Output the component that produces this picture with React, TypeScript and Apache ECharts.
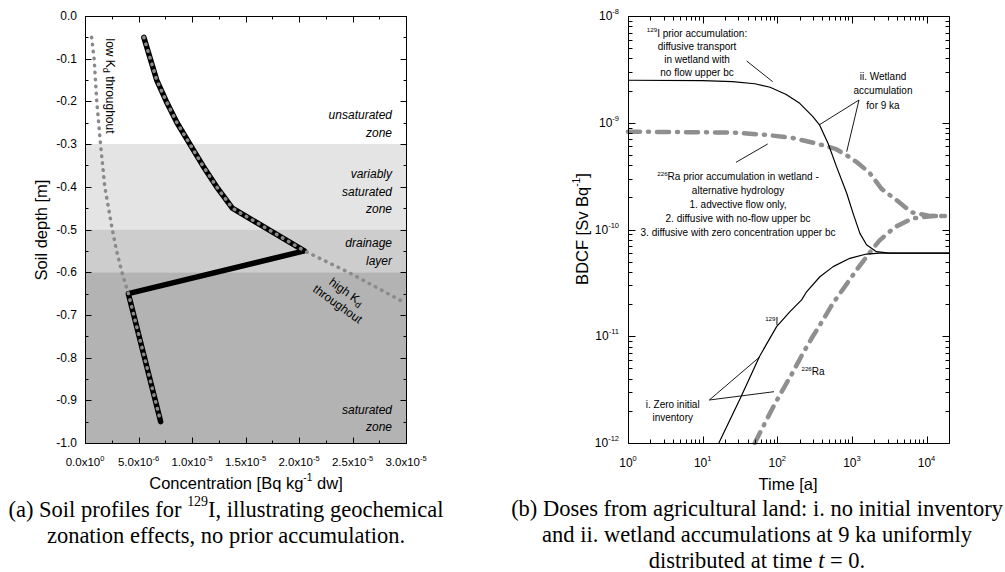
import React, { useEffect, useRef } from 'react';
import * as echarts from 'echarts';

// ---------- Left panel data: soil profiles for 129I ----------
const zonedDepth = [-0.05, -0.15, -0.2, -0.25, -0.3, -0.35, -0.4, -0.45, -0.55, -0.65, -0.95];
const zonedConc = [5.5e-6, 6.7e-6, 7.6e-6, 8.6e-6, 9.8e-6, 1.1e-5, 1.23e-5, 1.377e-5, 2.05e-5, 4.05e-6, 7.07e-6];

const highKdDepth = [-0.05, -0.15, -0.2, -0.25, -0.3, -0.35, -0.4, -0.45, -0.55, -0.6, -0.673];
const highKdConc = [5.5e-6, 6.7e-6, 7.6e-6, 8.6e-6, 9.8e-6, 1.1e-5, 1.23e-5, 1.377e-5, 2.05e-5, 2.46e-5, 3.0e-5];

const lowKdDepth = [-0.05, -0.1, -0.2, -0.3, -0.4, -0.5, -0.55, -0.6, -0.65, -0.95];
const lowKdConc = [6.2e-7, 8.5e-7, 1.1e-6, 1.45e-6, 1.85e-6, 2.55e-6, 2.95e-6, 3.45e-6, 4.05e-6, 7.07e-6];

const zoneBounds = [-0.3, -0.5, -0.6, -1.0];

// ---------- Right panel data: BDCF vs time ----------
const i129PriorTime = [1, 10, 25, 50, 80, 130, 200, 300, 370, 480, 620, 850, 1040, 1280, 1570, 2130, 3170, 20000];
const i129PriorDose = [2.5e-9, 2.48e-9, 2.43e-9, 2.32e-9, 2.15e-9, 1.85e-9, 1.52e-9, 1.14e-9, 9.5e-10, 6.4e-10, 3.9e-10, 2.2e-10, 1.41e-10, 9.2e-11, 7.2e-11, 6.2e-11, 6.0e-11, 6.0e-11];

const i129ZeroTime = [16.5, 32, 58, 98, 148, 212, 247, 372, 561, 937, 1567, 2350, 20000];
const i129ZeroDose = [1e-12, 2.63e-12, 6.5e-12, 1.23e-11, 1.7e-11, 2.19e-11, 2.61e-11, 3.61e-11, 4.49e-11, 5.37e-11, 5.89e-11, 6.0e-11, 6.0e-11];

const ra226PriorTime = [1, 25, 72, 160, 333, 600, 835, 1200, 1720, 2500, 3900, 6300, 11000, 20000];
const ra226PriorDose = [8.25e-10, 8.1e-10, 7.7e-10, 7.2e-10, 6.4e-10, 5.7e-10, 5.0e-10, 4.2e-10, 3.4e-10, 2.4e-10, 1.9e-10, 1.45e-10, 1.34e-10, 1.34e-10];

const ra226ZeroTime = [50, 68, 92, 120, 163, 220, 300, 410, 555, 800, 1150, 1630, 2350, 3740, 6500, 12000, 20000];
const ra226ZeroDose = [1e-12, 1.53e-12, 2.3e-12, 3.2e-12, 4.65e-12, 6.9e-12, 1.0e-11, 1.42e-11, 2.03e-11, 2.9e-11, 4.17e-11, 5.75e-11, 7.9e-11, 1.05e-10, 1.27e-10, 1.34e-10, 1.34e-10];

// ---------- Axis ranges and tick values ----------
const leftX = { min: 0, max: 3e-5, step: 5e-6, log: false };
const leftY = { min: -1, max: 0, step: 0.1, log: false };
const rightX = { min: 1, max: 20000, log: true };
const rightY = { min: 1e-12, max: 1e-8, log: true };

const leftXMajor: number[] = [];
const leftXMinor: number[] = [];
for (let i = 0; i <= 6; i++) leftXMajor.push(i * leftX.step);
for (let i = 0; i < 6; i++) leftXMinor.push((i + 0.5) * leftX.step);
const leftYMajor: number[] = [];
const leftYMinor: number[] = [];
for (let i = 0; i <= 10; i++) leftYMajor.push(-1 + i * leftY.step);
for (let i = 0; i < 10; i++) leftYMinor.push(-1 + (i + 0.5) * leftY.step);

const rightXMajor = [1, 10, 100, 1000, 10000];
const rightYMajor = [1e-12, 1e-11, 1e-10, 1e-9, 1e-8];
const rightXMinor: number[] = [];
for (let n = 0; n <= 3; n++) for (let k = 2; k <= 9; k++) rightXMinor.push(k * Math.pow(10, n));
const rightYMinor: number[] = [];
for (let n = -12; n <= -9; n++) for (let k = 2; k <= 9; k++) rightYMinor.push(k * Math.pow(10, n));

const GRIDS = [
  { left: 85, top: 16, width: 321, height: 427 },
  { left: 628, top: 16, width: 321, height: 427 },
];

const SANS = 'Liberation Sans';
const SERIF = 'Liberation Serif';

const zip = (a: number[], b: number[]) => a.map((v, i) => [v, b[i]]);

const supRich = (base: number, sup: number, pad: number) => ({
  sup: { fontSize: sup, fontFamily: SANS, padding: [0, 0, pad, 0], color: '#000' },
  b: { fontSize: base, fontFamily: SANS, color: '#000' },
});

function sciLabel(v: number) {
  if (Math.abs(v) < 1e-15) return '{b|0.0x10}{sup|0}';
  const e = Math.floor(Math.log10(v) + 1e-9);
  const m = v / Math.pow(10, e);
  return '{b|' + m.toFixed(1) + 'x10}{sup|' + e + '}';
}
function powLabel(v: number) {
  const l = Math.log10(v);
  const r = Math.round(l);
  if (Math.abs(l - r) > 1e-6) return '';
  return '{b|10}{sup|' + r + '}';
}

function text(x: number, y: number, t: string, o: any = {}) {
  const size = o.size || 10;
  const family = o.family || SANS;
  const style: any = {
    text: t,
    fontSize: size,
    fontFamily: family,
    fontStyle: o.italic ? 'italic' : 'normal',
    fill: '#000',
    align: o.align || 'center',
    verticalAlign: 'middle',
    textAlign: o.align || 'center',
    textVerticalAlign: 'middle',
    lineHeight: o.lh || size * 1.3,
  };
  if (o.rich) style.rich = o.rich;
  return { type: 'text', x, y, rotation: o.rot || 0, z: 100, style };
}
function line(x1: number, y1: number, x2: number, y2: number, w = 0.9) {
  return { type: 'line', z: 100, shape: { x1, y1, x2, y2 }, style: { stroke: '#000', lineWidth: w } };
}

const annRich = (size: number, family = SANS) => ({
  sup: { fontSize: size * 0.62, fontFamily: family, padding: [0, 0, size * 0.7, 0], fill: '#000', color: '#000' },
  sub: { fontSize: size * 0.75, fontFamily: family, padding: [size * 0.6, 0, 0, 0], fill: '#000', color: '#000' },
  it: { fontSize: size, fontFamily: family, fontStyle: 'italic', fill: '#000', color: '#000' },
});

function buildOption() {
  const hidden = {
    axisLine: { show: false, onZero: false },
    axisTick: { show: false },
    minorTick: { show: false },
    splitLine: { show: false },
  };
  const markAreaData = [
    [{ yAxis: zoneBounds[0], itemStyle: { color: '#e4e4e4' } }, { yAxis: zoneBounds[1] }],
    [{ yAxis: zoneBounds[1], itemStyle: { color: '#cdcdcd' } }, { yAxis: zoneBounds[2] }],
    [{ yAxis: zoneBounds[2], itemStyle: { color: '#b3b3b3' } }, { yAxis: zoneBounds[3] }],
  ];
  return {
    animation: false,
    backgroundColor: '#fff',
    textStyle: { fontFamily: SANS },
    grid: GRIDS,
    xAxis: [
      {
        type: 'value', gridIndex: 0, min: leftX.min, max: leftX.max, interval: leftX.step, position: 'bottom', ...hidden,
        axisLabel: { formatter: sciLabel, margin: 11, rich: supRich(11.5, 7.5, 8), color: '#000' },
      },
      {
        type: 'log', logBase: 10, gridIndex: 1, min: rightX.min, max: rightX.max, position: 'bottom', ...hidden,
        axisLabel: { formatter: powLabel, margin: 11, rich: supRich(12, 7.5, 9), color: '#000', showMaxLabel: false },
      },
    ],
    yAxis: [
      {
        type: 'value', gridIndex: 0, min: leftY.min, max: leftY.max, interval: leftY.step, position: 'left', ...hidden,
        axisLabel: { formatter: (v: number) => (Math.abs(v) < 1e-9 ? '0.0' : v.toFixed(1)), margin: 8, fontSize: 12, color: '#000', fontFamily: SANS },
      },
      {
        type: 'log', logBase: 10, gridIndex: 1, min: rightY.min, max: rightY.max, position: 'left', ...hidden,
        axisLabel: { formatter: powLabel, margin: 9, rich: supRich(12, 7.5, 9), color: '#000' },
      },
    ],
    series: [
      {
        name: 'zoned', type: 'line', xAxisIndex: 0, yAxisIndex: 0, symbol: 'none',
        data: zip(zonedConc, zonedDepth),
        lineStyle: { color: '#000', width: 5.5, cap: 'round', join: 'round' },
        markArea: { silent: true, data: markAreaData },
        z: 2,
      },
      {
        name: 'high Kd', type: 'line', xAxisIndex: 0, yAxisIndex: 0, symbol: 'none',
        data: zip(highKdConc, highKdDepth),
        lineStyle: { color: '#8a8a8a', width: 3.5, type: [0.5, 6.5], cap: 'round' },
        z: 3,
      },
      {
        name: 'low Kd', type: 'line', xAxisIndex: 0, yAxisIndex: 0, symbol: 'none',
        data: zip(lowKdConc, lowKdDepth),
        lineStyle: { color: '#8a8a8a', width: 3.5, type: [0.5, 6.5], cap: 'round' },
        z: 3,
      },
      {
        name: '226Ra prior', type: 'line', xAxisIndex: 1, yAxisIndex: 1, symbol: 'none',
        data: zip(ra226PriorTime, ra226PriorDose),
        lineStyle: { color: '#8f8f8f', width: 4.5, type: [12, 8, 1, 8], cap: 'round' },
        z: 2,
      },
      {
        name: '226Ra zero', type: 'line', xAxisIndex: 1, yAxisIndex: 1, symbol: 'none',
        data: zip(ra226ZeroTime, ra226ZeroDose),
        lineStyle: { color: '#8f8f8f', width: 4.5, type: [12, 8, 1, 8], cap: 'round' },
        z: 2,
      },
      {
        name: '129I prior', type: 'line', xAxisIndex: 1, yAxisIndex: 1, symbol: 'none',
        data: zip(i129PriorTime, i129PriorDose),
        lineStyle: { color: '#000', width: 1.2 },
        z: 3,
      },
      {
        name: '129I zero', type: 'line', xAxisIndex: 1, yAxisIndex: 1, symbol: 'none',
        data: zip(i129ZeroTime, i129ZeroDose),
        lineStyle: { color: '#000', width: 1.2 },
        z: 3,
      },
    ],
  };
}

function annotations() {
  const r10 = annRich(10);
  const r12 = annRich(12);
  const rSerif = annRich(22.5, SERIF);
  return [
    text(41, 230, 'Soil depth [m]', { size: 16.5, rot: Math.PI / 2 }),
    text(246, 483, 'Concentration [Bq kg{sup|-1} dw]', { size: 16.5, rich: annRich(16.5) }),
    text(110, 86, 'low K{sub|d} throughout', { size: 12, rot: -Math.PI / 2, rich: r12 }),
    text(342, 298, 'high K{sub|d}\nthroughout', { size: 12, rot: -0.62, rich: r12, lh: 15 }),
    text(392, 124, 'unsaturated\nzone', { size: 12, italic: true, align: 'right', lh: 17.5 }),
    text(392, 191.5, 'variably\nsaturated\nzone', { size: 12, italic: true, align: 'right', lh: 17.5 }),
    text(392, 252, 'drainage\nlayer', { size: 12, italic: true, align: 'right', lh: 18 }),
    text(392, 418.5, 'saturated\nzone', { size: 12, italic: true, align: 'right', lh: 17.5 }),
    text(582, 229, 'BDCF [Sv Bq{sup|-1}]', { size: 16.5, rot: Math.PI / 2, rich: annRich(16.5) }),
    text(788, 484, 'Time [a]', { size: 16.5 }),
    text(697, 52.5, '{sup|129}I prior accumulation:\ndiffusive transport\nin wetland with\nno flow upper bc', { size: 10, rich: r10, lh: 13 }),
    line(746.7, 61, 772.7, 81.7),
    text(883, 90.7, 'ii. Wetland\naccumulation\nfor 9 ka', { size: 10, lh: 14.5 }),
    line(859, 100, 819, 125),
    line(859, 100, 846.7, 151.7),
    text(738, 204.7, '{sup|226}Ra prior accumulation in wetland -\nalternative hydrology\n1. advective flow only,\n2. diffusive with no-flow upper bc\n3. diffusive with zero concentration upper bc', { size: 10, rich: r10, lh: 14 }),
    line(736, 162.3, 767.7, 144),
    text(771.7, 321.7, '{sup|129}I', { size: 10, rich: r10 }),
    text(813, 371.7, '{sup|226}Ra', { size: 10, rich: r10 }),
    text(672.7, 411, 'i. Zero initial\ninventory', { size: 10, lh: 13.7 }),
    line(709.3, 400, 760, 356.7),
    line(709.3, 400, 774, 391.7),
    text(226, 522.5, '(a) Soil profiles for {sup|129}I, illustrating geochemical\nzonation effects, no prior accumulation.', { size: 22.5, family: SERIF, rich: rSerif, lh: 25.5 }),
    text(757, 534, '(b) Doses from agricultural land: i. no initial inventory\nand ii. wetland accumulations at 9 ka uniformly\ndistributed at time {it|t} = 0.', { size: 22.5, family: SERIF, rich: rSerif, lh: 26 }),
  ];
}

// Frame and inward ticks on all four sides, placed through the chart's own scales.
function frameAndTicks(chart: any) {
  const els: any[] = [];
  const c = (v: number) => Math.round(v) + 0.5;
  const panel = (idx: number, xr: any, yr: any, xMaj: number[], xMin: number[], yMaj: number[], yMin: number[], majLen: number, minLen: number) => {
    const g = GRIDS[idx];
    const frac = (r: any, v: number) => (r.log ? (Math.log10(v) - Math.log10(r.min)) / (Math.log10(r.max) - Math.log10(r.min)) : (v - r.min) / (r.max - r.min));
    const toPx = (x: number, y: number): number[] => {
      let p: any = null;
      try {
        p = chart.convertToPixel({ gridIndex: idx }, [x, y]);
      } catch (e) {
        p = null;
      }
      if (!p || !isFinite(p[0]) || !isFinite(p[1])) {
        p = [g.left + frac(xr, x) * g.width, g.top + (1 - frac(yr, y)) * g.height];
      }
      return p;
    };
    const tl = toPx(xr.min, yr.max);
    const br = toPx(xr.max, yr.min);
    const x0 = c(tl[0]), y0 = c(tl[1]), x1 = c(br[0]), y1 = c(br[1]);
    els.push(line(x0, y0, x1, y0, 1));
    els.push(line(x0, y1, x1, y1, 1));
    els.push(line(x0, y0, x0, y1, 1));
    els.push(line(x1, y0, x1, y1, 1));
    const xt = (vals: number[], len: number) => vals.forEach((v) => {
      const px = c(toPx(v, yr.min)[0]);
      els.push(line(px, y1, px, y1 - len, 1));
      els.push(line(px, y0, px, y0 + len, 1));
    });
    const yt = (vals: number[], len: number) => vals.forEach((v) => {
      const py = c(toPx(xr.min, v)[1]);
      els.push(line(x0, py, x0 + len, py, 1));
      els.push(line(x1, py, x1 - len, py, 1));
    });
    xt(xMaj, majLen); xt(xMin, minLen); yt(yMaj, majLen); yt(yMin, minLen);
  };
  panel(0, leftX, leftY, leftXMajor, leftXMinor, leftYMajor, leftYMinor, 6, 3);
  panel(1, rightX, rightY, rightXMajor, rightXMinor, rightYMajor, rightYMinor, 7, 4);
  return els;
}

export default function App() {
  const ref = useRef<HTMLDivElement>(null);
  useEffect(() => {
    if (!ref.current) return;
    const chart = echarts.init(ref.current, null, { renderer: 'svg' });
    chart.setOption(buildOption() as any);
    let extra: any[] = [];
    try {
      extra = frameAndTicks(chart);
    } catch (e) {
      extra = [];
    }
    chart.setOption({ graphic: { elements: [...annotations(), ...extra] } } as any);
    return () => chart.dispose();
  }, []);
  return <div ref={ref} style={{ width: 1005, height: 572, position: 'absolute', left: 0, top: 0 }} />;
}
